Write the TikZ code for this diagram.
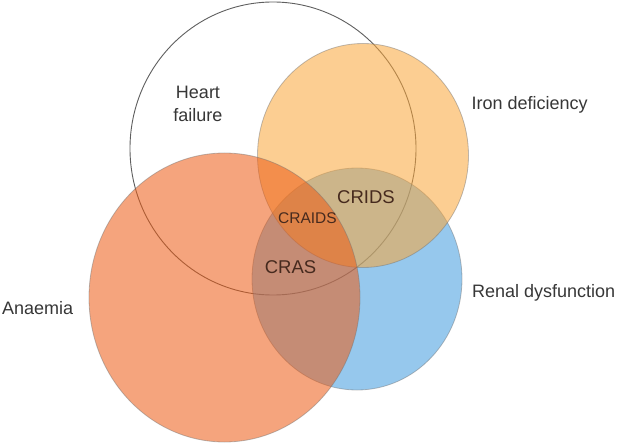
\documentclass[tikz,border=0pt]{standalone}
\usepackage{fontspec}
\setmainfont{Liberation Sans}
\definecolor{ironc}{RGB}{250,166,57}
\definecolor{renalc}{RGB}{64,155,224}
\definecolor{anaemc}{RGB}{237,91,19}
\definecolor{outtext}{RGB}{55,55,55}
\definecolor{intext}{RGB}{70,42,30}
\definecolor{hfline}{RGB}{95,95,95}
\tikzset{
  setc/.style={fill opacity=0.55, draw opacity=0.45, draw=black!55, line width=0.8pt},
  outlabel/.style={text=outtext, font=\fontsize{18}{23}\selectfont, inner sep=0pt},
  inlabel/.style={text=intext, font=\fontsize{18.5}{22}\selectfont, inner sep=0pt}
}
\begin{document}
\begin{tikzpicture}[x=1pt,y=-1pt]
\useasboundingbox (0,0) rectangle (625,444);
\fill[white] (0,0) rectangle (625,444);
% Heart failure
\draw[hfline, line width=0.9pt] (273,148.5) ellipse [x radius=143, y radius=146.5];
% Renal dysfunction
\path[setc, fill=renalc] (357,279) ellipse [x radius=105, y radius=111];
% Iron deficiency
\path[setc, fill=ironc] (363,155.5) ellipse [x radius=105.5, y radius=112];
% Anaemia
\path[setc, fill=anaemc] (224.5,297.5) ellipse [x radius=135.5, y radius=144.5];
% labels
\node[outlabel, align=center] (hf) at (198,103.5) {Heart\\failure};
\node[outlabel, anchor=west] (iron) at (471.5,105) {Iron deficiency};
\node[outlabel, anchor=west] (renal) at (472,293) {Renal dysfunction};
\node[outlabel, anchor=west] (anaem) at (2,308) {Anaemia};
\node[inlabel] (crids) at (366,197) {CRIDS};
\node[inlabel, font=\fontsize{15.5}{18}\selectfont] (craids) at (307.5,218) {CRAIDS};
\node[inlabel] (cras) at (290.5,267) {CRAS};
\end{tikzpicture}
\end{document}
